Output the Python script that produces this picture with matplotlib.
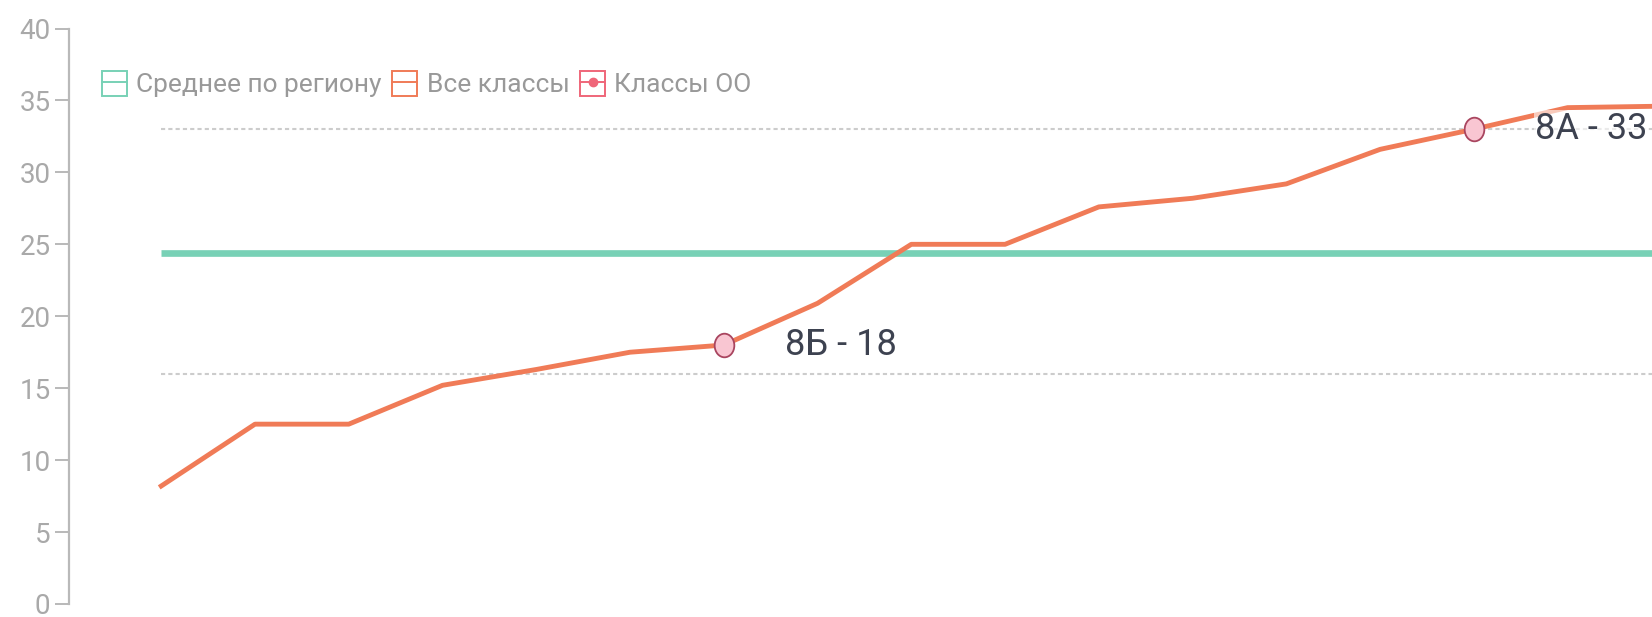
import matplotlib
matplotlib.use("Agg")
import matplotlib.pyplot as plt
from matplotlib.patches import Rectangle
from matplotlib.lines import Line2D
from matplotlib.legend_handler import HandlerTuple
from matplotlib.path import Path
from matplotlib.transforms import Affine2D

plt.rcParams['font.family'] = ['Roboto', 'DejaVu Sans']

# results of all classes (sorted), region average, classes of the school
all_classes = [8.2, 12.5, 12.5, 15.2, 16.3, 17.5, 18, 20.9, 25, 25,
               27.6, 28.2, 29.2, 31.6, 33, 34.5, 34.6]
region_avg = 24.4
school_names = ['8Б', '8А']
school_pos = [6, 14]
school_vals = [18, 33]
legend_labels = ['Среднее по региону', 'Все классы', 'Классы ОО']
y_ticks = [0, 5, 10, 15, 20, 25, 30, 35, 40]

green = '#78d1b6'
orange = '#f07b57'
red = '#ef6679'
grey = '#b9b9b9'

W, H = 1652, 617
fig = plt.figure(figsize=(W / 100, H / 100), dpi=100)
ax = fig.add_axes([68.5 / W, 13 / H, 1 - 68.5 / W, (604 - 28.5) / H])

idx = list(range(len(all_classes)))
last = len(all_classes) - 1

# dotted guides
for v in [school_vals[1], 16]:
    ax.hlines(v, 0, last, colors='#cccccc', linestyles=(0, (2, 1.5)), lw=1.5, zorder=1)

ax.hlines(region_avg, 0, last, colors=green, lw=4.8, zorder=2)
ax.plot(idx, all_classes, color=orange, lw=3.5, zorder=3, solid_joinstyle='round')

ellipse = Path.unit_circle().transformed(Affine2D().scale(1, 1.2))
ax.plot(school_pos, school_vals, linestyle='none', marker=ellipse, markersize=17,
        markerfacecolor='#f9c6d2', markeredgecolor='#a9455f', markeredgewidth=1.3, zorder=4)

for name, x, v in zip(school_names, school_pos, school_vals):
    ax.annotate(f'{name} - {v}', xy=(x, v), xytext=(44, 0), textcoords='offset points',
                ha='left', va='center', fontsize=26, color='#3d4250', zorder=5,
                bbox=dict(facecolor='white', alpha=0.6, edgecolor='none', pad=1))

ax.set_xlim(-0.989, 15.9)
ax.set_ylim(0, 40)
ax.set_yticks(y_ticks)
ax.set_xticks([])
for s in ['top', 'right', 'bottom']:
    ax.spines[s].set_visible(False)
ax.spines['left'].set_color(grey)
ax.spines['left'].set_linewidth(1.6)
ax.tick_params(axis='y', length=10, width=1.4, color=grey, labelcolor='#a9a9a9',
               labelsize=20, pad=3)

handles = [
    (Rectangle((0, 0), 1, 1, facecolor='none', edgecolor=green, lw=1.4),
     Line2D([], [], color=green, lw=1.4)),
    (Rectangle((0, 0), 1, 1, facecolor='none', edgecolor=orange, lw=1.4),
     Line2D([], [], color=orange, lw=1.4)),
    (Rectangle((0, 0), 1, 1, facecolor='none', edgecolor=red, lw=1.4),
     Line2D([], [], color=red, lw=1.4, marker='o', markersize=6,
            markerfacecolor=red, markeredgecolor=red)),
]
fig.legend(handles, legend_labels, handler_map={tuple: HandlerTuple(ndivide=1, pad=0)},
           loc='center left', bbox_to_anchor=(102 / W, 1 - 84 / H), ncol=3,
           frameon=False, fontsize=19, handlelength=0.95, handleheight=1.1,
           handletextpad=0.35, columnspacing=0.4, borderpad=0, borderaxespad=0,
           labelcolor='#999999')

fig.savefig('out.png', dpi=100)
